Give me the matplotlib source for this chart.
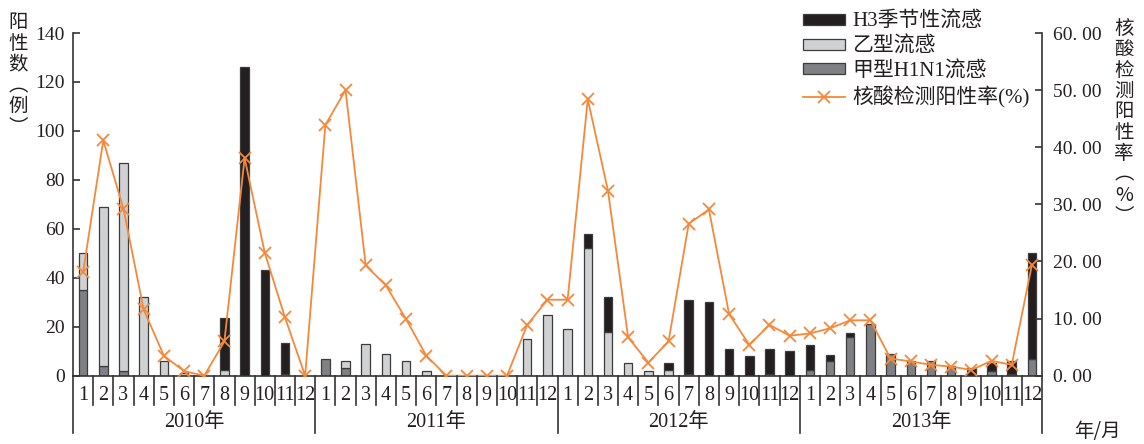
import matplotlib
matplotlib.use("Agg")
import matplotlib.pyplot as plt
import matplotlib.transforms as mtrans
from matplotlib.patches import Patch
from matplotlib.lines import Line2D
import numpy as np

years = ["2010年", "2011年", "2012年", "2013年"]
months = [str(m) for m in range(1, 13)]

h3 = [0, 0, 0, 0, 0, 0, 0, 21, 126, 43, 13, 0,
      0, 0, 0, 0, 0, 0, 0, 0, 0, 0, 0, 0,
      0, 6, 14, 0, 0, 2.5, 30.5, 30, 11, 8, 10.5, 10,
      10, 2.5, 1.5, 0, 0, 0, 0, 0, 3, 3, 5.5, 43]
flu_b = [15, 65, 85, 32, 6, 1, 0, 2.5, 0, 0, 0.5, 0,
         0, 3, 13, 9, 6, 2, 0, 0, 0, 0, 15, 25,
         19, 52, 18, 5, 2, 2.5, 0.5, 0, 0, 0, 0.5, 0,
         0, 0, 0, 0, 0, 0, 0, 0, 0, 0, 0, 0]
h1n1 = [35, 4, 2, 0, 0, 0, 0, 0, 0, 0, 0, 0,
        7, 3, 0, 0, 0, 0, 0, 0, 0, 0, 0, 0,
        0, 0, 0, 0, 0, 0, 0, 0, 0, 0, 0, 0,
        2.5, 6, 16, 21, 9, 6, 6, 4, 0, 2, 0.5, 7]
rate = [18.1, 41.2, 29.2, 11.6, 3.5, 0.8, 0, 6.0, 38.1, 21.5, 10.2, 0,
        43.9, 50.0, 19.3, 15.8, 9.9, 3.5, 0, 0, 0, 0, 8.9, 13.3,
        13.3, 48.4, 32.4, 6.7, 2.3, 6.0, 26.6, 29.1, 10.8, 5.4, 8.9, 7.0,
        7.4, 8.3, 9.7, 9.7, 3.0, 2.5, 1.9, 1.6, 1.0, 2.6, 1.9, 19.4]

left_ticks = [0, 20, 40, 60, 80, 100, 120, 140]
right_ticks = [0, 10, 20, 30, 40, 50, 60]

labels = ["H3季节性流感", "乙型流感", "甲型H1N1流感", "核酸检测阳性率(%)"]

C_H3 = "#231f20"
C_B = "#cfd1d2"
C_H1 = "#7f8083"
C_EDGE = "#3c3c3c"
C_LINE = "#f5883a"
C_TXT = "#231f20"

SERIF = ["Liberation Serif", "Noto Sans CJK SC"]
CJK = ["Noto Sans CJK SC", "DejaVu Sans"]

W, H = 1144, 444
fig = plt.figure(figsize=(W / 100, H / 100), dpi=100)


def fx(px):
    return px / W


def fy(py):
    return 1 - py / H


x0, x1, y0, y1 = 73, 1042, 375.7, 33
ax = fig.add_axes([fx(x0), fy(y0), fx(x1) - fx(x0), fy(y1) - fy(y0)])
ax2 = ax.twinx()

n = len(rate)
x = np.arange(n)
bw = 0.42
h1a = np.array(h1n1, float)
ba = np.array(flu_b, float)
h3a = np.array(h3, float)


def lw(v):
    return [0.9 if val > 0 else 0 for val in v]


ax.bar(x, h1a, bw, color=C_H1, edgecolor=C_EDGE, linewidth=lw(h1a), zorder=2)
ax.bar(x, ba, bw, bottom=h1a, color=C_B, edgecolor=C_EDGE, linewidth=lw(ba), zorder=2)
ax.bar(x, h3a, bw, bottom=h1a + ba, color=C_H3, edgecolor=C_EDGE, linewidth=lw(h3a), zorder=2)

ax2.plot(x, rate, color=C_LINE, lw=1.3, marker="x", markersize=8, markeredgewidth=1.3, zorder=3)

ax.set_xlim(-0.5, n - 0.5)
ax.set_ylim(0, 140)
ax2.set_ylim(0, 60)
ax.set_zorder(ax2.get_zorder() - 1)
ax.patch.set_visible(False)

for a in (ax, ax2):
    a.spines["top"].set_visible(False)
    for s in ("left", "right", "bottom"):
        a.spines[s].set_color("#333333")
        a.spines[s].set_linewidth(1.2)
ax.spines["right"].set_visible(False)
ax2.spines["left"].set_visible(False)
ax2.spines["bottom"].set_visible(False)

ax.set_xticks([])
ax.set_yticks(left_ticks)
ax.set_yticklabels([str(t) for t in left_ticks], fontfamily=SERIF, fontsize=14, color=C_TXT)
ax.tick_params(axis="y", direction="in", length=5, width=1.2, color="#333333", pad=6)
ax2.set_yticks(right_ticks)
ax2.set_yticklabels(["%d. 00" % t for t in right_ticks], fontfamily=SERIF, fontsize=14, color=C_TXT)
ax2.tick_params(axis="y", direction="in", length=5, width=1.2, color="#333333", pad=8)

# bottom category axis
tr = mtrans.blended_transform_factory(ax.transData, fig.transFigure)
for i in range(1, n):
    if i % 12 == 0:
        yb = fy(433)
    else:
        yb = fy(405)
    fig.add_artist(Line2D([i - 0.5, i - 0.5], [fy(y0), yb], transform=tr, color="#333333", lw=1.2))
for xe in (-0.5, n - 0.5):
    fig.add_artist(Line2D([xe, xe], [fy(y0), fy(433)], transform=tr, color="#333333", lw=1.2))

for i in range(n):
    fig.text(i, fy(395), months[i % 12], transform=tr, ha="center", va="center",
             fontfamily=SERIF, fontsize=14.5, color=C_TXT)
for k, yl in enumerate(years):
    fig.text(12 * k + 5.5, fy(422), yl, transform=tr, ha="center", va="center",
             fontfamily=SERIF, fontsize=14.5, color=C_TXT)

fig.text(fx(1097), fy(431), "年/月", ha="center", va="center", fontfamily=CJK, fontsize=14, color=C_TXT)

# axis titles (stacked vertical text)
fig.text(fx(18), fy(12), "\n".join(["阳", "性", "数", "︵", "例", "︶"]), ha="center", va="top",
         fontfamily=CJK, fontsize=14, color=C_TXT, linespacing=1.0)
fig.text(fx(1124), fy(18), "\n".join(["核", "酸", "检", "测", "阳", "性", "率", "︵", "%", "︶"]),
         ha="center", va="top", fontfamily=CJK, fontsize=14, color=C_TXT, linespacing=0.99)

handles = [Patch(facecolor=C_H3, edgecolor=C_EDGE, linewidth=0.9),
           Patch(facecolor=C_B, edgecolor=C_EDGE, linewidth=0.9),
           Patch(facecolor=C_H1, edgecolor=C_EDGE, linewidth=0.9),
           Line2D([], [], color=C_LINE, lw=1.3, marker="x", markersize=8, markeredgewidth=1.3)]
leg = fig.legend(handles, labels, loc="upper left", bbox_to_anchor=(fx(803), fy(12)),
                 frameon=False, prop={"family": SERIF, "size": 15},
                 handlelength=2.0, handleheight=0.45, handletextpad=0.35, labelspacing=0.22,
                 borderaxespad=0, borderpad=0)
for t in leg.get_texts():
    t.set_color(C_TXT)

fig.savefig("out.png", dpi=100)
